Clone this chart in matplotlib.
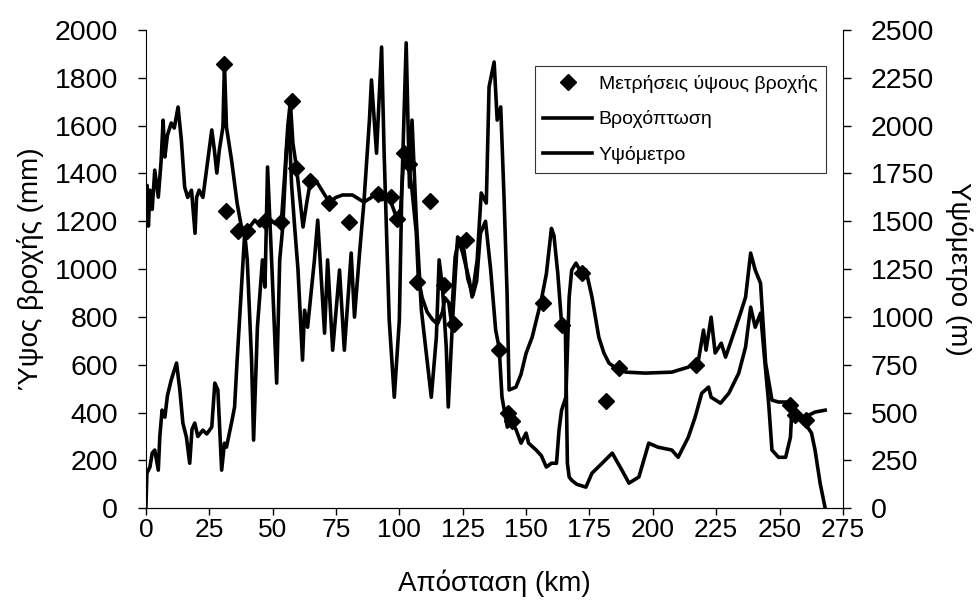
import matplotlib.pyplot as plt

plt.rcParams['font.family'] = ['Liberation Sans', 'DejaVu Sans']

# Βροχόπτωση κατά μήκος της τομής (km, mm)
rain_km = [0, 0.5, 1, 1.6, 2.5, 3.5, 4.9, 6, 6.8, 7.5, 8.5, 10, 11.2, 12.7, 14,
           15.3, 16.5, 18, 19.4, 20, 21, 22.5, 24, 26, 27, 28, 29, 30.4, 31,
           31.8, 33.8, 36, 37.7, 40, 43, 45, 48, 51, 53.5, 54.7, 56, 57, 58,
           59.4, 61.4, 62, 63.5, 65, 67.7, 70, 72.4, 75, 77.6, 81.5, 86, 89,
           91, 93, 96, 98.8, 100.5, 101.8, 103.5, 105, 106.7, 107.5, 109, 111,
           113, 115, 117, 118, 119.5, 120.5, 122, 123.5, 125.5, 127, 129,
           130.5, 132, 134, 136, 138, 139.4, 140.5, 142.6, 144, 146, 148, 150,
           151, 154, 156, 158, 160, 162, 163, 164, 165.7, 167, 168, 169.7,
           171, 173.6, 176, 178.7, 180.7, 182.7, 185.4, 189.4, 197, 207.5,
           214, 218, 220, 221, 223, 224.6, 227, 228.7, 231, 234.6, 236.6,
           238.6, 240.4, 242.5, 244.5, 247, 249.6, 254.7, 256, 260, 264, 268]
rain_mm = [1250, 1350, 1180, 1330, 1250, 1414, 1301, 1450, 1623, 1469, 1560,
           1611, 1590, 1678, 1540, 1343, 1300, 1330, 1150, 1300, 1330, 1300,
           1420, 1582, 1500, 1402, 1500, 1594, 1860, 1594, 1456, 1276, 1176,
           1163, 1205, 1180, 1218, 1190, 1205, 1385, 1600, 1700, 1527, 1427,
           1234, 1176, 1280, 1372, 1360, 1320, 1280, 1300, 1310, 1310, 1280,
           1300, 1330, 1290, 1301, 1218, 1250, 1480, 1440, 1330, 1150, 960,
           880, 820, 790, 770, 820, 880, 860, 780, 1050, 1130, 1080, 960, 890,
           950, 1150, 1200, 1000, 745, 669, 464, 339, 360, 330, 272, 314, 272,
           243, 220, 172, 188, 188, 326, 410, 464, 883, 996, 1025, 1000, 996,
           883, 715, 649, 607, 586, 569, 565, 569, 590, 619, 745, 661, 799,
           649, 690, 632, 703, 816, 883, 1067, 996, 941, 607, 452, 444, 444,
           381, 381, 402, 410]

# Υψόμετρο (km, m)
elev_km = [0, 0.4, 1.6, 2.5, 3.5, 4.9, 5.5, 6.4, 7.5, 8.5, 10, 12.1, 13.4,
           14.6, 16, 17.3, 18.2, 19.3, 20.5, 22.5, 24, 26, 27.2, 28.4, 29.9,
           31, 31.8, 34, 35, 36, 37.7, 39, 40, 41.7, 42.5, 44, 46, 47, 48,
           49.6, 51.6, 52.8, 54, 55.5, 56.5, 57.5, 58.7, 60, 61.8, 62.6, 63.8,
           66.5, 67.8, 70.5, 71.7, 73.7, 76.4, 78.3, 81, 82.3, 84.3, 86, 88.2,
           89, 91, 93, 94, 96, 98, 100, 101, 102.7, 104, 105, 106.7, 108.7,
           110.6, 112.6, 114.6, 115.7, 117, 118.5, 119.3, 121, 123, 125,
           127.6, 128.7, 130.7, 132.3, 134.3, 135.4, 137.4, 138.6, 140, 141.3,
           142.5, 143.3, 146, 148, 150, 152.4, 156, 158, 160, 161, 162.5, 164,
           165.5, 166.3, 167, 168, 170, 173.6, 176, 180, 184, 187.8, 190.6,
           194.5, 198.4, 202, 207.5, 210, 214, 216.7, 219.3, 222, 223, 226.7,
           230, 233.9, 236.6, 238.6, 240.4, 242.5, 244.5, 245.7, 247, 249.6,
           252.4, 254.3, 254.7, 257.5, 260, 262.6, 264, 266, 268]
elev_m = [0, 183, 215, 288, 304, 199, 375, 513, 476, 588, 670, 759, 618, 445,
          371, 235, 413, 445, 375, 408, 388, 424, 654, 618, 199, 340, 319, 460,
          529, 774, 1156, 1439, 1298, 774, 356, 946, 1298, 1156, 1784, 1298,
          654, 1298, 1470, 1875, 2000, 1688, 1470, 1250, 774, 1035, 946, 1298,
          1506, 915, 1298, 826, 1245, 826, 1334, 999, 1334, 1595, 2029, 2239,
          1856, 2411, 1856, 984, 580, 984, 1679, 2433, 1679, 2029, 1506, 1035,
          811, 580, 894, 1298, 1156, 843, 529, 984, 1418, 1334, 1193, 1104,
          1298, 1648, 1595, 2203, 2333, 2029, 2098, 1625, 1125, 618, 633, 700,
          810, 894, 1088, 1225, 1463, 1425, 1229, 968, 931, 235, 163, 146,
          125, 110, 183, 235, 288, 199, 131, 163, 340, 319, 304, 266, 371,
          476, 601, 633, 580, 549, 601, 706, 843, 1051, 946, 1020, 721, 549,
          304, 266, 266, 371, 476, 476, 445, 393, 304, 131, 0]

# Σημειακές μετρήσεις ύψους βροχής (km, mm)
meas_km = [31, 31.8, 36.5, 40, 47, 53.5, 57.5, 59.4, 64.6, 72.4, 80.3, 91.5,
           96.8, 99.2, 101.8, 104, 107, 112, 117.7, 121.5, 126.4, 139.4, 143,
           144.5, 156.5, 164, 172, 181.5, 186.6, 217, 254.3, 256, 260.5]
meas_mm = [1860, 1245, 1160, 1160, 1200, 1195, 1705, 1425, 1370, 1275, 1195,
           1315, 1300, 1210, 1485, 1440, 945, 1285, 935, 770, 1120, 660, 400,
           365, 860, 765, 985, 450, 585, 600, 430, 390, 370]

fig = plt.figure(figsize=(9.79, 6.13), dpi=100)
ax = fig.add_axes([0.149, 0.171, 0.712, 0.780])
ax2 = ax.twinx()

pts, = ax.plot(meas_km, meas_mm, linestyle='none', marker='D', markersize=8.5,
               color='black', zorder=5, label='Μετρήσεις ύψους βροχής')
rain, = ax.plot(rain_km, rain_mm, color='black', linewidth=2.6,
                label='Βροχόπτωση')
elev, = ax2.plot(elev_km, elev_m, color='black', linewidth=2.6,
                 label='Υψόμετρο')

ax.set_xlim(0, 275)
ax.set_ylim(0, 2000)
ax2.set_ylim(0, 2500)
ax.set_xticks(range(0, 276, 25))
ax.set_yticks(range(0, 2001, 200))
ax2.set_yticks(range(0, 2501, 250))

for a in (ax, ax2):
    a.spines['top'].set_visible(False)
    a.tick_params(length=6, width=1, direction='out')
    a.tick_params(axis='y', labelsize=20.5, pad=14)
ax.tick_params(axis='x', labelsize=19, length=5, pad=2)
ax2.spines['left'].set_visible(False)
ax.spines['right'].set_visible(False)

ax.set_xlabel('Απόσταση (km)', fontsize=20, labelpad=20)
ax.set_ylabel('Ύψος βροχής (mm)', fontsize=20, labelpad=8)
ax2.set_ylabel('Υψόμετρο (m)', fontsize=20, rotation=270, labelpad=28)

leg = ax2.legend([pts, rain, elev],
                 [h.get_label() for h in (pts, rain, elev)],
                 loc='upper right', bbox_to_anchor=(0.844, 0.892),
                 bbox_transform=fig.transFigure, fontsize=14,
                 frameon=True, fancybox=False, handlelength=2.5,
                 handletextpad=0.35, labelspacing=0.9, borderpad=0.45,
                 borderaxespad=0)
leg.get_frame().set_edgecolor('black')
leg.get_frame().set_linewidth(0.8)

fig.savefig('out.png', dpi=100)
